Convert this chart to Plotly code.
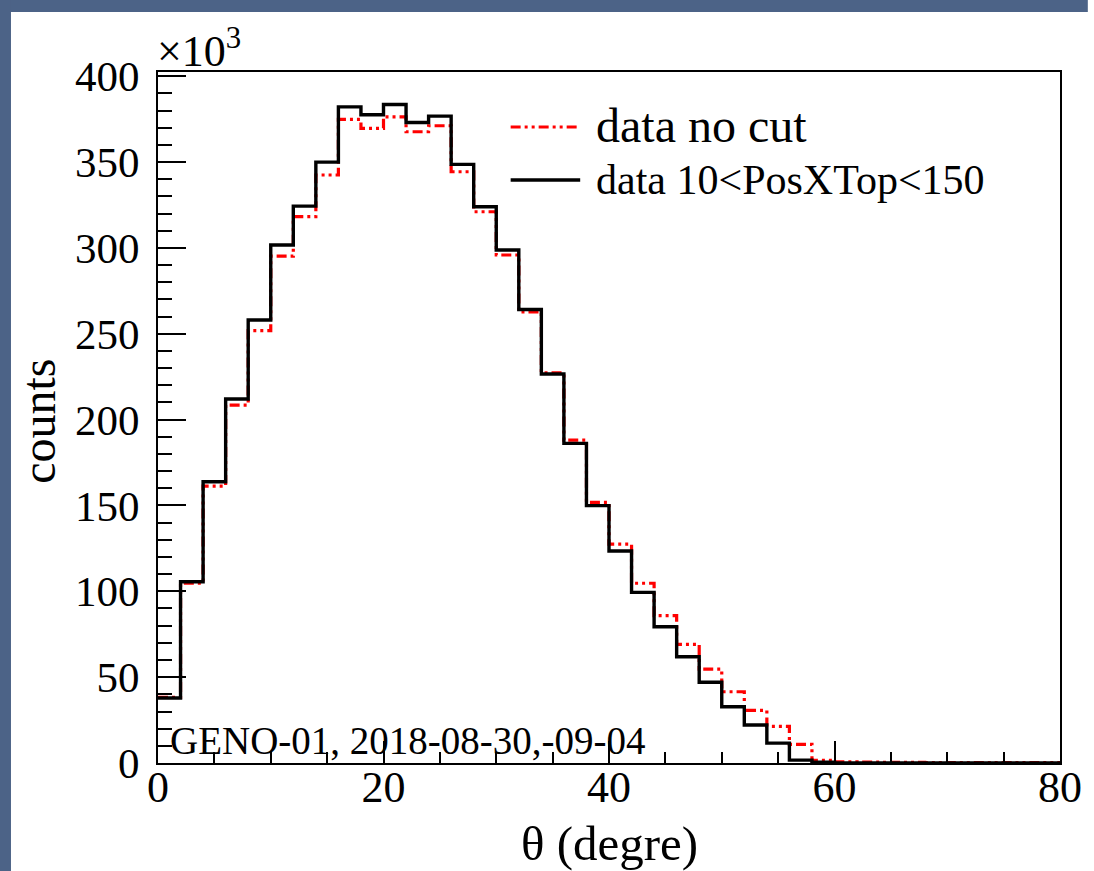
import plotly.graph_objects as go

# Theta histogram, 2-degree bins from 0 to 80 degrees (counts in thousands)
bin_edges = list(range(0, 82, 2))

counts_no_cut = [
    38.2, 104.7, 161.3, 208.5, 251.8, 295.3, 318.2, 342.5, 374.9, 369.7,
    376.4, 367.7, 371.2, 344.4, 321.1, 295.9, 262.8, 227.3, 188.1, 151.8,
    127.5, 104.7, 85.8, 69.1, 54.7, 41.5, 30.7, 21.3, 10.9, 1.5,
    0.6, 0.5, 0.4, 0.4, 0.3, 0.3, 0.3, 0.2, 0.3, 0.2,
]
counts_cut = [
    37.9, 105.6, 163.8, 212.0, 258.0, 301.7, 324.4, 350.0, 382.2, 377.6,
    383.6, 373.1, 376.8, 348.7, 324.0, 298.8, 264.2, 226.6, 186.2, 149.9,
    123.5, 99.4, 79.4, 61.9, 47.0, 32.8, 22.1, 11.6, 1.7, 0.4,
    0.0, 0.0, 0.0, 0.0, 0.0, 0.0, 0.0, 0.0, 0.0, 0.0,
]

x_tick_vals = [0, 20, 40, 60, 80]
y_tick_vals = [0, 50, 100, 150, 200, 250, 300, 350, 400]

series_labels = ["data no cut", "data 10<PosXTop<150"]
run_label = "GENO-01, 2018-08-30,-09-04"

W, H = 1094, 871
L, R, T, B = 158, 1066, 72, 763  # plot frame in pixels
SERIF = "Liberation Serif, Times New Roman, serif"
BG = "#4c6387"
RED_DASH = "10px,4px,3px,4px,3px,4px"


def px(x):
    return (x - L) / (R - L)


def py(y):
    return (B - y) / (B - T)


def step(values):
    # ROOT-style histogram outline: each bin drawn as a flat step
    return bin_edges, [v * 1000 for v in values] + [values[-1] * 1000]


fig = go.Figure()

xs, ys = step(counts_no_cut)
fig.add_trace(go.Scatter(
    x=xs, y=ys, mode="lines", line_shape="hv",
    line=dict(color="#ff0000", width=3.2, dash=RED_DASH),
    name=series_labels[0], showlegend=False,
))
xs, ys = step(counts_cut)
fig.add_trace(go.Scatter(
    x=xs, y=ys, mode="lines", line_shape="hv",
    line=dict(color="#000000", width=3.4),
    name=series_labels[1], showlegend=False,
))

shapes = [
    # blue slide border along the top and left edges
    dict(type="rect", xref="paper", yref="paper", layer="below",
         x0=px(-5), x1=px(W), y0=py(12), y1=py(-5),
         fillcolor=BG, line=dict(width=0)),
    dict(type="rect", xref="paper", yref="paper", layer="below",
         x0=px(-5), x1=px(10), y0=py(H + 5), y1=py(-5),
         fillcolor=BG, line=dict(width=0)),
    # legend samples
    dict(type="line", xref="paper", yref="paper",
         x0=px(513), x1=px(583), y0=py(127), y1=py(127),
         line=dict(color="#ff0000", width=3.2, dash=RED_DASH)),
    dict(type="line", xref="paper", yref="paper",
         x0=px(513), x1=px(583), y0=py(180), y1=py(180),
         line=dict(color="#000000", width=3.4)),
]

annotations = [
    dict(text="×10<sup>3</sup>", xref="paper", yref="paper",
         x=px(155), y=py(48), xanchor="left", yanchor="middle",
         showarrow=False, font=dict(family=SERIF, size=44, color="black")),
    dict(text=series_labels[0], xref="paper", yref="paper",
         x=px(597), y=py(126), xanchor="left", yanchor="middle",
         showarrow=False, font=dict(family=SERIF, size=48, color="black")),
    dict(text=series_labels[1], xref="paper", yref="paper",
         x=px(597), y=py(180), xanchor="left", yanchor="middle",
         showarrow=False, font=dict(family=SERIF, size=42, color="black")),
    dict(text=run_label, xref="paper", yref="paper",
         x=px(168), y=py(740), xanchor="left", yanchor="middle",
         showarrow=False, font=dict(family=SERIF, size=39, color="black")),
    dict(text="θ (degre)", xref="paper", yref="paper",
         x=px(612), y=py(843), xanchor="center", yanchor="middle",
         showarrow=False, font=dict(family=SERIF, size=49, color="black")),
    dict(text="counts", xref="paper", yref="paper", textangle=-90,
         x=px(38), y=py(421), xanchor="center", yanchor="middle",
         showarrow=False, font=dict(family=SERIF, size=48, color="black")),
]

fig.update_layout(
    width=W, height=H, autosize=False,
    margin=dict(l=L, r=W - R, t=T, b=H - B, pad=0),
    paper_bgcolor="white", plot_bgcolor="white",
    shapes=shapes, annotations=annotations,
    showlegend=False,
)

fig.update_xaxes(
    range=[0, 80], showgrid=False, zeroline=False,
    showline=True, linecolor="black", linewidth=2, mirror=True,
    ticks="inside", ticklen=22, tickwidth=1.5, tickcolor="black",
    tickvals=x_tick_vals, ticktext=[str(v) for v in x_tick_vals],
    ticklabelstandoff=-16,
    minor=dict(dtick=5, ticks="inside", ticklen=11, tickwidth=1.5, tickcolor="black"),
    tickfont=dict(family=SERIF, size=44, color="black"),
)
fig.update_yaxes(
    range=[0, 402500], showgrid=False, zeroline=False,
    showline=True, linecolor="black", linewidth=2, mirror=True,
    ticks="inside", ticklen=28, tickwidth=1.5, tickcolor="black",
    tickvals=[v * 1000 for v in y_tick_vals], ticktext=[str(v) for v in y_tick_vals],
    ticklabelstandoff=8,
    minor=dict(dtick=10000, ticks="inside", ticklen=14, tickwidth=1.5, tickcolor="black"),
    tickfont=dict(family=SERIF, size=43, color="black"),
)

# keep the page flush with the window, without scrollbars
page_style = (
    "document.documentElement.style.margin='0';"
    "document.body.style.margin='0';"
    "document.body.style.overflow='hidden';"
    "document.body.style.background='white';"
)

fig.write_html("out.html", post_script=page_style)
